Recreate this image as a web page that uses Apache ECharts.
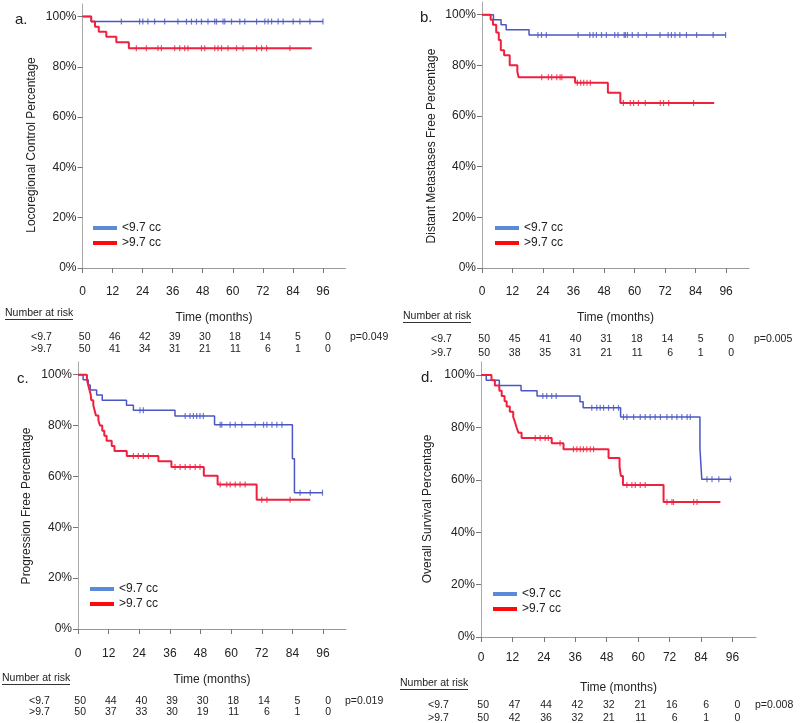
<!DOCTYPE html>
<html><head><meta charset="utf-8">
<script src="https://cdn.jsdelivr.net/npm/echarts@6/dist/echarts.min.js"></script>
<style>html,body{margin:0;padding:0;background:#fff}#c{width:800px;height:723px}</style>
</head><body><div id="c"></div>
<script>
// ---------- shared labels ----------
const xTicks = [0, 12, 24, 36, 48, 60, 72, 84, 96];
const yTicks = [0, 20, 40, 60, 80, 100];
const groupNames = ['<9.7 cc', '>9.7 cc'];
const riskRowLabels = ['<9.7', '>9.7'];
const panelLetters = ['a.', 'b.', 'c.', 'd.'];
const yAxisTitles = ['Locoregional Control Percentage', 'Distant Metastases Free Percentage', 'Progression Free Percentage', 'Overall Survival Percentage'];
const pValues = ['p=0.049', 'p=0.005', 'p=0.019', 'p=0.008'];
const xAxisTitle = 'Time (months)';
const riskTitle = 'Number at risk';

// ---------- panel a : locoregional control ----------
const aLowTimes = [3.5];
const aLowSurv = [98];
const aLowEnd = 96;
const aLowCensor = [15.5,22.8,24.1,26.1,28.8,32.8,38.1,41.5,43.5,45.5,47.5,50.1,52.8,53.5,56.1,56.8,59.5,62.8,64.8,69.5,72.8,74.1,75.5,78.1,80.1,84.1,86.8,90.8,96];
const aHighTimes = [3.5, 5, 6.5, 9.5, 13.5, 18.5];
const aHighSurv = [98, 96, 94, 92, 89.8, 87.4];
const aHighEnd = 91.5;
const aHighCensor = [21.5,25.5,30.1,31.5,36.8,38.8,40.8,42.1,47.5,48.8,52.8,54.1,55.5,58.1,61.5,64.1,69.5,71.5,73.5,82.8];
const aRiskLow = [50, 46, 42, 39, 30, 18, 14, 5, 0];
const aRiskHigh = [50, 41, 34, 31, 21, 11, 6, 1, 0];

// ---------- panel b : distant metastases free ----------
const bLowTimes = [4.5, 7.5, 9.5, 18.5];
const bLowSurv = [98, 96, 94, 92];
const bLowEnd = 95.8;
const bLowCensor = [22.0,23.4,25.3,37.8,42.4,43.7,45.0,47.0,48.9,52.2,53.5,55.9,56.4,57.2,59.1,61.4,64.7,70.0,73.2,74.5,75.9,77.8,80.4,84.4,90.9,95.8];
const bHighTimes = [3.4, 4.3, 5.6, 6.6, 7.4, 8.7, 10.9, 13.9, 14.4, 36.6, 49.5, 54.4];
const bHighSurv = [98, 96, 93, 90, 86, 84, 80, 77.5, 75.3, 73.1, 69.2, 65.1];
const bHighEnd = 91.3;
const bHighCensor = [23.5,26.1,27.4,29.4,30.7,31.4,37.5,38.8,40,41.3,42.6,55.6,58.3,59.6,61.5,64.2,70.1,71.4,73.4,83.2];
const bRiskLow = [50, 45, 41, 40, 31, 18, 14, 5, 0];
const bRiskHigh = [50, 38, 35, 31, 21, 11, 6, 1, 0];

// ---------- panel c : progression free ----------
const cLowTimes = [2, 4, 4.8, 7.3, 9.5, 19, 21.7, 38, 53.5, 84, 84.8];
const cLowSurv = [98, 96, 94, 92, 90, 88, 86, 83.8, 80.3, 67, 53.6];
const cLowEnd = 95.8;
const cLowCensor = [24.3,25.6,42,43.9,45.2,46.5,47.8,49.1,55.7,56.3,59.6,61.6,64.2,69.4,72.7,74.0,76.0,77.9,79.9,87,91,95.8];
const cHighTimes = [3.5, 4, 4.5, 5, 5.2, 6, 6.5, 7, 8, 8.6, 9.5, 10.3, 11.2, 13.2, 14.3, 19.1, 31.5, 36.6, 49.3, 54.7, 70];
const cHighSurv = [98, 96, 94, 92, 90, 88, 86, 84, 82, 80, 78, 76, 74, 72, 70, 68, 66, 63.7, 60.3, 56.8, 50.8];
const cHighEnd = 91;
const cHighCensor = [21.7,23.6,25.6,27.6,38,40,42,43.9,45.9,47.8,55.7,58.3,59.6,61.6,63.5,65.5,72,74,83.1];
const cRiskLow = [50, 44, 40, 39, 30, 18, 14, 5, 0];
const cRiskHigh = [50, 37, 33, 30, 19, 11, 6, 1, 0];

// ---------- panel d : overall survival ----------
const dLowTimes = [2, 7, 15.3, 21.4, 37.8, 39, 53.3, 83.6, 84.3];
const dLowSurv = [98, 96, 94, 92, 89.8, 87.5, 84, 72, 60.2];
const dLowEnd = 95.7;
const dLowCensor = [23.6,25.1,27.0,28.7,42.3,44.2,45.5,46.8,48.7,50.6,52.5,54.4,55.7,58.3,60.8,62.7,64.6,66.5,68.5,71.0,72.9,74.8,76.7,78.7,79.9,86.3,88.2,90.8,95.2];
const dHighTimes = [4, 5.3, 7, 7.9, 9, 9.8, 11, 12.3, 13, 13.6, 14.3, 15.5, 27, 31.5, 48.7, 52.9, 53.4, 54.2, 69.7];
const dHighSurv = [98, 96, 94, 92, 90, 88, 86, 84, 82, 80, 78, 76, 74, 71.7, 68.3, 65, 61.5, 58, 51.5];
const dHighEnd = 91.4;
const dHighCensor = [20.7,22.6,24.5,25.7,30.2,35.3,36.6,37.9,39.1,40.4,41.7,43.0,55.7,57.6,58.9,60.8,62.7,71.0,72.9,73.5,81.2,82.5];
const dRiskLow = [50, 47, 44, 42, 32, 21, 16, 6, 0];
const dRiskHigh = [50, 42, 36, 32, 21, 11, 6, 1, 0];

// ---------- assembly ----------
const FONT = "'Liberation Sans', Arial, sans-serif";
const TXT = '#222';
const BLUE = '#4a56c2', RED = '#f0203f';
const LEG_BLUE = '#5b8ad6', LEG_RED = '#ff0a0a';

const panels = [
  {low:[aLowTimes,aLowSurv,aLowEnd,aLowCensor], high:[aHighTimes,aHighSurv,aHighEnd,aHighCensor], risk:[aRiskLow,aRiskHigh],
   grid:{left:82.5, top:4, width:263, height:264}, nameGap:44, labelMargin:18, legend:{left:93, top:222},
   letter:[15,20], ytitle:[32,145], table:{nar:[5,313], rows:[337,349], rowLabelX:31, pX:350}},
  {low:[bLowTimes,bLowSurv,bLowEnd,bLowCensor], high:[bHighTimes,bHighSurv,bHighEnd,bHighCensor], risk:[bRiskLow,bRiskHigh],
   grid:{left:482, top:2, width:267, height:266}, nameGap:44, labelMargin:18, legend:{left:495, top:222},
   letter:[420,18], ytitle:[432,146], table:{nar:[403,316], rows:[339,353], rowLabelX:431, pX:754}},
  {low:[cLowTimes,cLowSurv,cLowEnd,cLowCensor], high:[cHighTimes,cHighSurv,cHighEnd,cHighCensor], risk:[cRiskLow,cRiskHigh],
   grid:{left:78, top:362, width:268, height:267}, nameGap:45, labelMargin:19, legend:{left:90, top:583},
   letter:[17,379], ytitle:[27,506], table:{nar:[2,678], rows:[701,712], rowLabelX:29, pX:345}},
  {low:[dLowTimes,dLowSurv,dLowEnd,dLowCensor], high:[dHighTimes,dHighSurv,dHighEnd,dHighCensor], risk:[dRiskLow,dRiskHigh],
   grid:{left:481, top:362, width:275, height:275}, nameGap:45, labelMargin:15, legend:{left:493, top:588},
   letter:[421,378], ytitle:[428,509], table:{nar:[400,683], rows:[705,718], rowLabelX:428, pX:755}}
];

function kmLine(T, S, end) {
  const d = [[0, 100]];
  T.forEach((t, i) => d.push([t, S[i]]));
  d.push([end, S.length ? S[S.length - 1] : 100]);
  return d;
}
function survAt(T, S, t) {
  let s = 100;
  for (let i = 0; i < T.length; i++) if (T[i] <= t) s = S[i];
  return s;
}

const grids = [], xAxes = [], yAxes = [], series = [], legends = [];
panels.forEach((p, i) => {
  grids.push(Object.assign({containLabel:false}, p.grid));
  xAxes.push({
    type:'value', gridIndex:i, min:0, max:105,
    name:xAxisTitle, nameLocation:'middle', nameGap:p.nameGap,
    nameTextStyle:{fontFamily:FONT, fontSize:12, color:TXT},
    axisLine:{lineStyle:{color:'#999', width:1}},
    axisTick:{show:true, length:5, lineStyle:{color:'#777'}, customValues:xTicks},
    axisLabel:{fontFamily:FONT, fontSize:12, color:TXT, margin:p.labelMargin, customValues:xTicks},
    splitLine:{show:false}
  });
  yAxes.push({
    type:'value', gridIndex:i, min:0, max:105,
    axisLine:{show:true, lineStyle:{color:'#aaa', width:1}},
    axisTick:{show:true, length:5, lineStyle:{color:'#777'}, customValues:yTicks},
    axisLabel:{fontFamily:FONT, fontSize:12, color:TXT, margin:6, customValues:yTicks, formatter:v=>v+'%'},
    splitLine:{show:false}
  });
  [[p.low, BLUE, 1.5], [p.high, RED, 2]].forEach(([g, col, w], k) => {
    series.push({
      type:'line', name:groupNames[k], xAxisIndex:i, yAxisIndex:i, step:'end',
      showSymbol:false, symbol:'none', animation:false, silent:true,
      lineStyle:{color:col, width:w}, itemStyle:{color:col},
      data:kmLine(g[0], g[1], g[2]), z:3
    });
    series.push({
      type:'scatter', name:'censor'+i+'_'+k, xAxisIndex:i, yAxisIndex:i,
      symbol:'rect', symbolSize:[1.2, 6], animation:false, silent:true,
      itemStyle:{color:col},
      data:g[3].map(t => [t, survAt(g[0], g[1], t)]), z:4
    });
  });
  legends.push({
    orient:'vertical', left:p.legend.left, top:p.legend.top, itemGap:3, padding:0,
    itemWidth:24, itemHeight:4, icon:'rect', selectedMode:false,
    textStyle:{fontFamily:FONT, fontSize:12, color:TXT},
    data:[{name:groupNames[0], itemStyle:{color:LEG_BLUE}}, {name:groupNames[1], itemStyle:{color:LEG_RED}}]
  });
});

const chart = echarts.init(document.getElementById('c'), null, {renderer:'canvas'});
chart.setOption({
  backgroundColor:'#fff', animation:false,
  grid:grids, xAxis:xAxes, yAxis:yAxes, series:series, legend:legends
});

// ---------- text graphics (letters, titles, at-risk tables) ----------
const graphics = [];
panels.forEach((p, i) => {
  graphics.push({type:'text', x:p.letter[0], y:p.letter[1],
    style:{text:panelLetters[i], font:'15px '+FONT, fill:TXT, textVerticalAlign:'middle'}});
  graphics.push({type:'text', x:p.ytitle[0], y:p.ytitle[1], rotation:Math.PI/2,
    style:{text:yAxisTitles[i], font:'12px '+FONT, fill:TXT, textAlign:'center', textVerticalAlign:'middle'}});
  const t = p.table;
  graphics.push({type:'text', x:t.nar[0], y:t.nar[1],
    style:{text:riskTitle, font:'10.5px '+FONT, fill:TXT, textVerticalAlign:'middle'}});
  graphics.push({type:'line', shape:{x1:t.nar[0], y1:t.nar[1]+6.5, x2:t.nar[0]+68, y2:t.nar[1]+6.5},
    style:{stroke:'#333', lineWidth:1}});
  p.risk.forEach((row, r) => {
    graphics.push({type:'text', x:t.rowLabelX, y:t.rows[r],
      style:{text:riskRowLabels[r], font:'10.5px '+FONT, fill:TXT, textVerticalAlign:'middle'}});
    row.forEach((n, k) => {
      const px = chart.convertToPixel({xAxisIndex:i}, xTicks[k]);
      graphics.push({type:'text', x:px + 8, y:t.rows[r],
        style:{text:String(n), font:'10.5px '+FONT, fill:TXT, textAlign:'right', textVerticalAlign:'middle'}});
    });
  });
  graphics.push({type:'text', x:t.pX, y:t.rows[0],
    style:{text:pValues[i], font:'10.5px '+FONT, fill:TXT, textVerticalAlign:'middle'}});
});
chart.setOption({graphic:graphics});
</script>
</body></html>
